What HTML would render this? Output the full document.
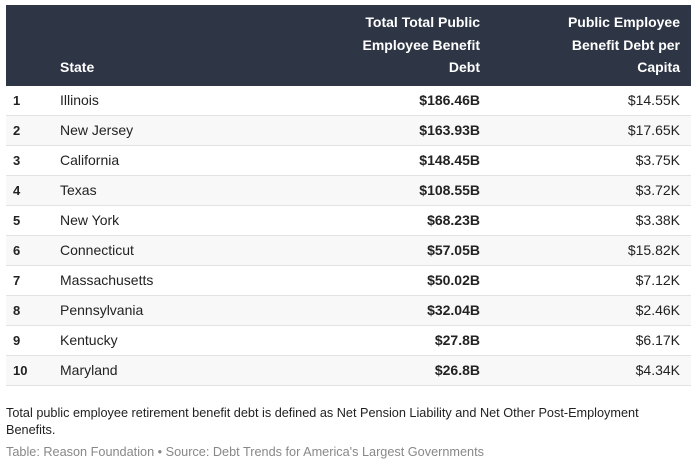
<!DOCTYPE html>
<html><head><style>
body{margin:0;width:697px;height:467px;background:#fff;font-family:"Liberation Sans",sans-serif;overflow:hidden;position:relative}
.hd{position:absolute;left:6px;top:5px;width:685px;height:81px;background:#2e3645}
.ht{position:absolute;color:#fff;font-weight:bold;font-size:14px;line-height:22.5px}
.row{position:absolute;left:6px;width:685px;height:29px;border-bottom:1px solid #e2e2e2;font-size:14px;color:#222;line-height:29px}
.row span{position:absolute}
.n{left:7px;font-weight:bold;font-size:13px}
.s{left:54px}
.a{right:211px;font-weight:bold}
.b{right:11px}
.f{position:absolute;left:6px;font-size:12.7px;line-height:17px}
</style></head><body>
<div class="hd"></div>
<div class="ht" style="left:60px;top:56px">State</div>
<div class="ht" style="right:217px;top:11px;text-align:right">Total Total Public<br>Employee Benefit<br>Debt</div>
<div class="ht" style="right:17px;top:11px;text-align:right">Public Employee<br>Benefit Debt per<br>Capita</div>
<div class="row" style="top:86px;background:#fff"><span class="n">1</span><span class="s">Illinois</span><span class="a">$186.46B</span><span class="b">$14.55K</span></div>
<div class="row" style="top:116px;background:#f8f8f8"><span class="n">2</span><span class="s">New Jersey</span><span class="a">$163.93B</span><span class="b">$17.65K</span></div>
<div class="row" style="top:146px;background:#fff"><span class="n">3</span><span class="s">California</span><span class="a">$148.45B</span><span class="b">$3.75K</span></div>
<div class="row" style="top:176px;background:#f8f8f8"><span class="n">4</span><span class="s">Texas</span><span class="a">$108.55B</span><span class="b">$3.72K</span></div>
<div class="row" style="top:206px;background:#fff"><span class="n">5</span><span class="s">New York</span><span class="a">$68.23B</span><span class="b">$3.38K</span></div>
<div class="row" style="top:236px;background:#f8f8f8"><span class="n">6</span><span class="s">Connecticut</span><span class="a">$57.05B</span><span class="b">$15.82K</span></div>
<div class="row" style="top:266px;background:#fff"><span class="n">7</span><span class="s">Massachusetts</span><span class="a">$50.02B</span><span class="b">$7.12K</span></div>
<div class="row" style="top:296px;background:#f8f8f8"><span class="n">8</span><span class="s">Pennsylvania</span><span class="a">$32.04B</span><span class="b">$2.46K</span></div>
<div class="row" style="top:326px;background:#fff"><span class="n">9</span><span class="s">Kentucky</span><span class="a">$27.8B</span><span class="b">$6.17K</span></div>
<div class="row" style="top:356px;background:#f8f8f8"><span class="n">10</span><span class="s">Maryland</span><span class="a">$26.8B</span><span class="b">$4.34K</span></div>
<div class="f" style="top:405px;color:#222">Total public employee retirement benefit debt is defined as Net Pension Liability and Net Other Post-Employment<br>Benefits.</div>
<div class="f" style="top:444px;color:#888">Table: Reason Foundation • Source: Debt Trends for America's Largest Governments</div>
</body></html>
